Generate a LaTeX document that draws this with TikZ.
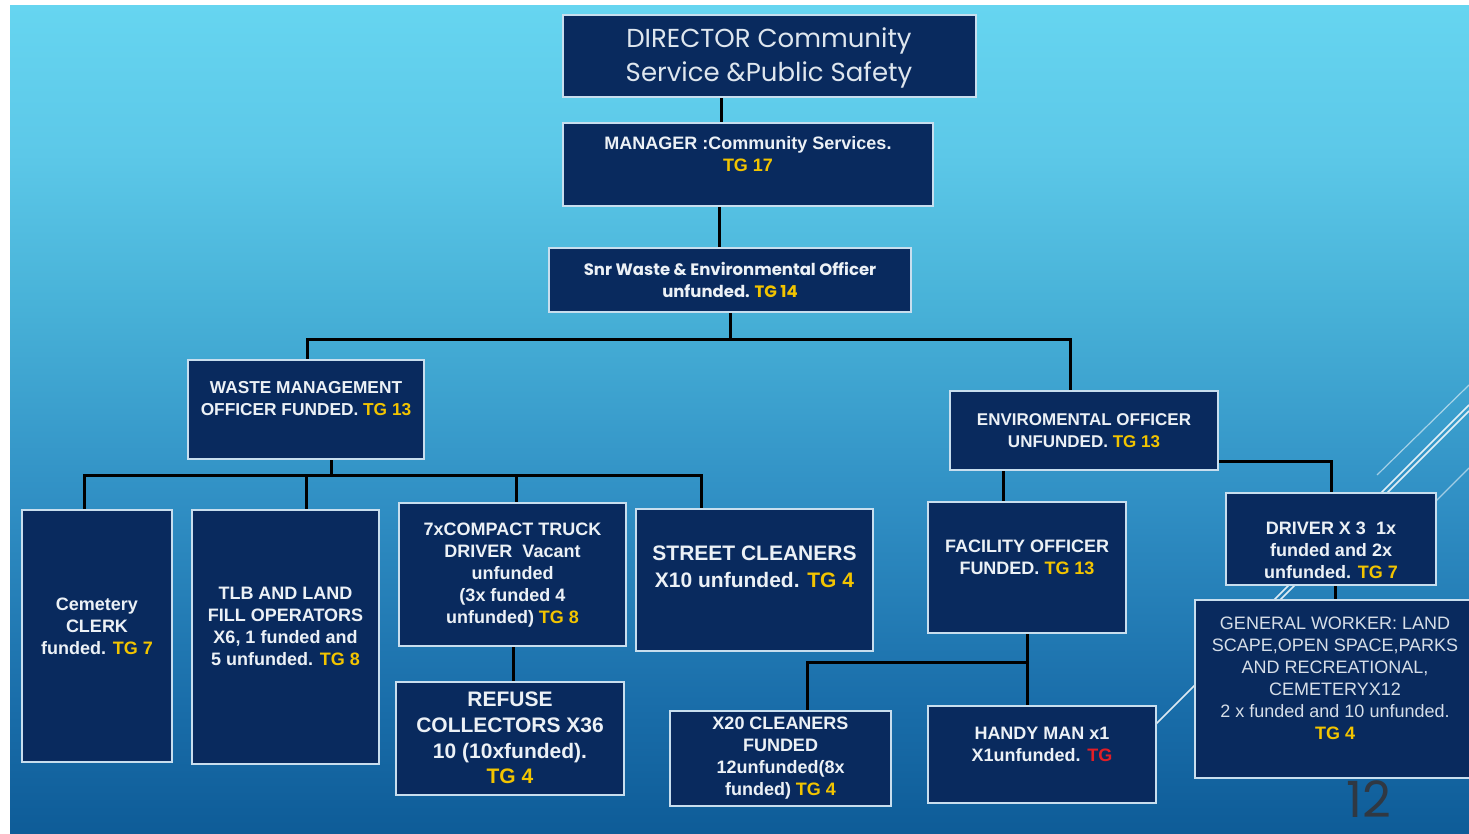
\documentclass[tikz,border=0pt]{standalone}
\usepackage{fontspec}
\setmainfont{Liberation Sans}
\newfontfamily\gothic{Poppins}
\definecolor{boxfill}{RGB}{9,42,94}
\definecolor{boxline}{RGB}{200,222,238}
\definecolor{txtcol}{RGB}{236,241,246}
\definecolor{dircol}{RGB}{222,230,238}
\definecolor{gencol}{RGB}{214,222,232}
\definecolor{tgy}{RGB}{242,196,0}
\definecolor{tgred}{RGB}{226,30,38}
\definecolor{numcol}{RGB}{48,56,66}
\definecolor{bgA}{RGB}{14,92,152}
\definecolor{bgB}{RGB}{26,110,170}
\definecolor{bgC}{RGB}{48,143,196}
\definecolor{bgD}{RGB}{72,178,216}
\definecolor{bgE}{RGB}{92,200,232}
\definecolor{bgF}{RGB}{102,213,240}
\pgfdeclareverticalshading{bgshade}{100bp}{color(0bp)=(bgA); color(25bp)=(bgA); color(33bp)=(bgB); color(45bp)=(bgC); color(57bp)=(bgD); color(66bp)=(bgE); color(75bp)=(bgF); color(100bp)=(bgF)}
\pgfdeclarelayer{back}
\pgfdeclarelayer{links}
\pgfsetlayers{back,links,main}
\newcommand{\tgy}[1]{\textcolor{tgy}{#1}}
\newcommand{\tgr}[1]{\textcolor{tgred}{#1}}
\tikzset{
  orgbox/.style={draw=boxline, line width=2.4pt, fill=boxfill, rectangle, inner sep=0pt},
  btxt/.style={text=txtcol, align=center, inner sep=0pt, font=\bfseries\fontsize{18}{22}\selectfont},
  bigtxt/.style={text=txtcol, align=center, inner sep=0pt, font=\bfseries\fontsize{21}{25.7}\selectfont},
  conn/.style={draw=black, line width=3pt},
  deco/.style={draw=white, line width=1.2pt, opacity=0.55},
  decob/.style={draw=white, line width=1.6pt, opacity=0.85}
}
\begin{document}
\begin{tikzpicture}[x=1pt,y=-1pt]
\useasboundingbox (0,0) rectangle (1469,833);
\begin{pgfonlayer}{back}
\fill[white] (0,0) rectangle (1469,833);
\shade[shading=bgshade] (10,5) rectangle (1469,833);
\draw[deco] (1377,475) -- (1469,385);
\draw[decob] (1274,600) -- (1469,405);
\draw[decob] (1150,730) -- (1469,411);
\draw[deco] (1400,537) -- (1469,468);
\end{pgfonlayer}

% boxes
\node[orgbox, minimum width=413pt, minimum height=82pt] (dir) at (769.5,56) {};
\node[orgbox, minimum width=370pt, minimum height=83pt] (mgr) at (748,164.5) {};
\node[orgbox, minimum width=362pt, minimum height=64pt] (snr) at (730,280) {};
\node[orgbox, minimum width=236pt, minimum height=99pt] (wm) at (306,409.5) {};
\node[orgbox, minimum width=268pt, minimum height=79pt] (env) at (1084,430.5) {};
\node[orgbox, minimum width=150pt, minimum height=252pt] (cem) at (97,636) {};
\node[orgbox, minimum width=187pt, minimum height=254pt] (tlb) at (285.5,637) {};
\node[orgbox, minimum width=227pt, minimum height=143pt] (cmp) at (512.5,574.5) {};
\node[orgbox, minimum width=237pt, minimum height=142pt] (str) at (754.5,580) {};
\node[orgbox, minimum width=228pt, minimum height=113pt] (ref) at (510,738.5) {};
\node[orgbox, minimum width=221pt, minimum height=95pt] (xcl) at (780.5,758.5) {};
\node[orgbox, minimum width=198pt, minimum height=131pt] (fac) at (1027,567.5) {};
\node[orgbox, minimum width=228pt, minimum height=97pt] (hdy) at (1042,754.5) {};
\node[orgbox, minimum width=210pt, minimum height=92pt] (drv) at (1331,539) {};
\node[orgbox, minimum width=276pt, minimum height=178pt] (gen) at (1333,689) {};

% texts
\node[text=dircol, align=center, inner sep=0pt, font=\gothic\fontsize{26}{34}\selectfont] (dir-t) at (769,58) {DIRECTOR Community\\Service \&Public Safety};
\node[btxt] (mgr-t) at (748,154) {MANAGER :Community Services.\\\tgy{TG 17}};
\node[btxt, font=\gothic\bfseries\fontsize{16.5}{22}\selectfont] (snr-t) at (730,280) {Snr Waste \& Environmental Officer\\unfunded. \tgy{TG 14}};
\node[btxt, font=\bfseries\fontsize{17.3}{22}\selectfont] (wm-t) at (306,399) {WASTE MANAGEMENT\\OFFICER FUNDED. \tgy{TG 13}};
\node[btxt, font=\bfseries\fontsize{17}{22}\selectfont] (env-t) at (1084,431) {ENVIROMENTAL OFFICER\\UNFUNDED. \tgy{TG 13}};
\node[btxt] (cem-t) at (97,626) {Cemetery\\CLERK\\funded. \tgy{TG 7}};
\node[btxt] (tlb-t) at (285.5,626) {TLB AND LAND\\FILL OPERATORS\\X6, 1 funded and\\5 unfunded. \tgy{TG 8}};
\node[btxt] (cmp-t) at (512.5,575) {7xCOMPACT TRUCK\\DRIVER\ \ Vacant\\unfunded\\(3x funded 4\\unfunded) \tgy{TG 8}};
\node[bigtxt, font=\bfseries\fontsize{21}{27}\selectfont] (str-t) at (754.5,567) {STREET CLEANERS\\X10 unfunded. \tgy{TG 4}};
\node[bigtxt] (ref-t) at (510,738) {REFUSE\\COLLECTORS X36\\10 (10xfunded).\\\tgy{TG 4}};
\node[btxt] (xcl-t) at (780.5,758) {X20 CLEANERS\\FUNDED\\12unfunded(8x\\funded) \tgy{TG 4}};
\node[btxt] (fac-t) at (1027,557) {FACILITY OFFICER\\FUNDED. \tgy{TG 13}};
\node[btxt] (hdy-t) at (1042,744) {HANDY MAN x1\\X1unfunded. \tgr{TG}};
\node[btxt] (drv-t) at (1331,550) {DRIVER X 3\ \ 1x\\funded and 2x\\unfunded. \tgy{TG 7}};
\node[btxt, text=gencol, font=\mdseries\fontsize{18}{22}\selectfont] (gen-t) at (1335,678) {GENERAL WORKER: LAND\\SCAPE,OPEN SPACE,PARKS\\AND RECREATIONAL,\\CEMETERYX12\\2 x funded and 10 unfunded.\\\textbf{\tgy{TG 4}}};

\node[text=numcol, inner sep=0pt, font=\gothic\fontsize{50}{50}\selectfont] (pg) at (1369,799) {12};

% connector x / junction coordinates
\coordinate (x1) at (721,0);
\coordinate (x2) at (719,0);
\coordinate (bus1) at (730,339);
\coordinate (xwm) at (307,0);
\coordinate (xenv) at (1070,0);
\coordinate (bus2) at (331,475);
\coordinate (xcem) at (84,0);
\coordinate (xtlb) at (306,0);
\coordinate (xcmp) at (516,0);
\coordinate (xstr) at (701,0);
\coordinate (xref) at (513,0);
\coordinate (xfac) at (1003,0);
\coordinate (jd) at (1331,461);
\coordinate (xgen) at (1335,0);
\coordinate (xhdy) at (1027,0);
\coordinate (jf) at (1027,662);
\coordinate (xxcl) at (807,0);

\begin{pgfonlayer}{links}
\draw[conn] (dir.south -| x1) -- (mgr.north -| x1);
\draw[conn] (mgr.south -| x2) -- (snr.north -| x2);
\draw[conn] (snr.south -| bus1) -- (bus1);
\draw[conn] (wm.north -| xwm) |- (bus1) -| (env.north -| xenv);
\draw[conn] (wm.south -| bus2) -- (bus2);
\draw[conn] (cem.north -| xcem) |- (bus2) -| (str.north -| xstr);
\draw[conn] (tlb.north -| xtlb) -- (xtlb |- bus2);
\draw[conn] (cmp.north -| xcmp) -- (xcmp |- bus2);
\draw[conn] (cmp.south -| xref) -- (ref.north -| xref);
\draw[conn] (env.south -| xfac) -- (fac.north -| xfac);
\draw[conn] (env.east |- jd) -| (drv.north -| jd);
\draw[conn] (drv.south -| xgen) -- (gen.north -| xgen);
\draw[conn] (fac.south -| xhdy) -- (hdy.north -| xhdy);
\draw[conn] (jf) -| (xcl.north -| xxcl);
\end{pgfonlayer}
\end{tikzpicture}
\end{document}
